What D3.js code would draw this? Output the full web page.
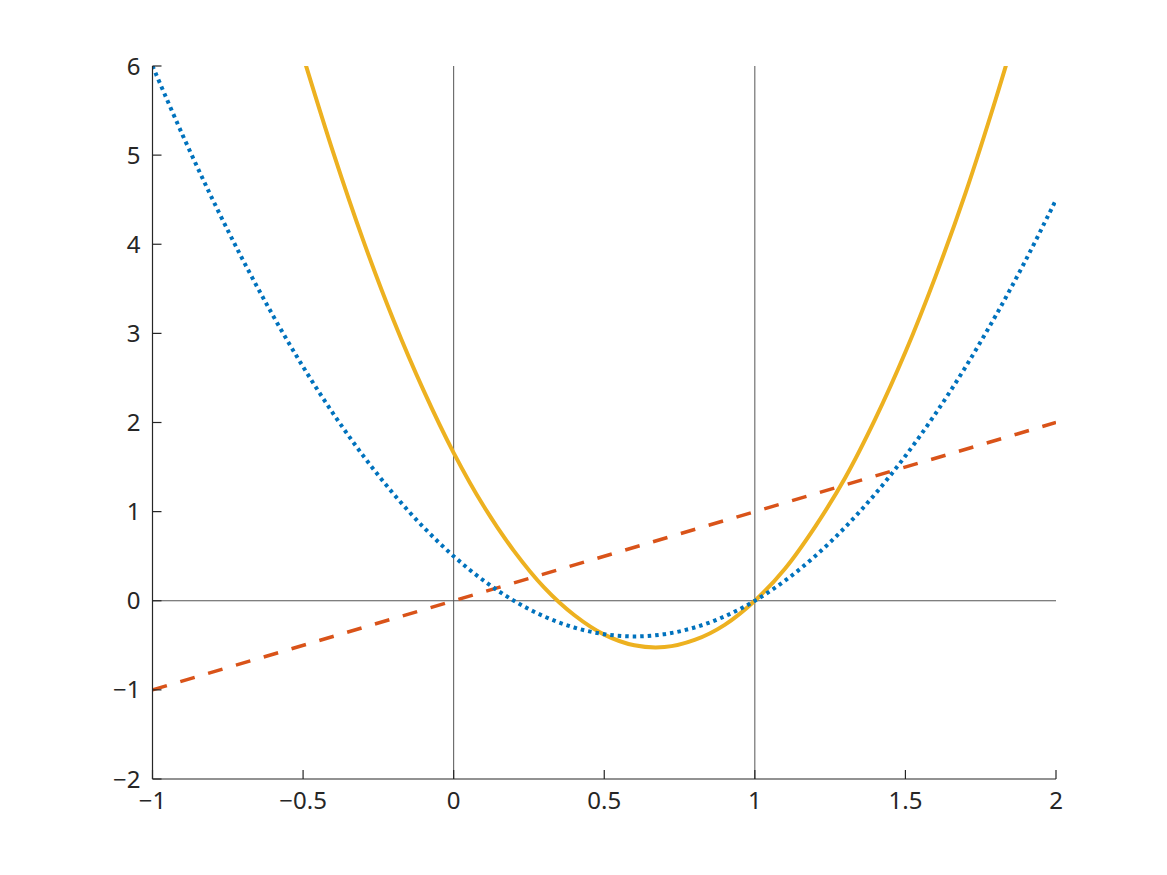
<!DOCTYPE html>
<html><head><meta charset="utf-8">
<script src="https://cdn.jsdelivr.net/npm/d3@7"></script>
<style>
html,body{margin:0;padding:0;background:#fff;}
</style></head>
<body>
<svg id="chart" width="1167" height="875"></svg>
<script>
// x samples
const xBlue = [-1,-0.9,-0.8,-0.7,-0.6,-0.5,-0.4,-0.3,-0.2,-0.1,0,0.1,0.2,0.3,0.4,0.5,0.6,0.7,0.8,0.9,1.0,1.1,1.2,1.3,1.4,1.5,1.6,1.7,1.8,1.9,2.0];
const yBlue = [6,5.225,4.5,3.825,3.2,2.625,2.1,1.625,1.2,0.825,0.5,0.225,0,-0.175,-0.3,-0.375,-0.4,-0.375,-0.3,-0.175,0,0.225,0.5,0.825,1.2,1.625,2.1,2.625,3.2,3.825,4.5];
const xLine = [-1, 2];
const yLine = [-1, 2];
const xYellow = [-0.5,-0.4,-0.3,-0.2,-0.1,0,0.1,0.2,0.3,0.4,0.5,0.6,0.7,0.8,0.9,1.0,1.1,1.2,1.3,1.4,1.5,1.6,1.7,1.8,1.9];
const yYellow = [6.11,5.03,4.04,3.15,2.36,1.66,1.06,0.56,0.15,-0.16,-0.38,-0.50,-0.52,-0.44,-0.27,0.00,0.36,0.83,1.38,2.04,2.79,3.64,4.58,5.63,6.76];
const xTicks = [-1,-0.5,0,0.5,1,1.5,2];
const xTickLabels = ["\u22121","\u22120.5","0","0.5","1","1.5","2"];
const yTicks = [-2,-1,0,1,2,3,4,5,6];
const yTickLabels = ["\u22122","\u22121","0","1","2","3","4","5","6"];
const refX = [0, 1];
const refY = [0];

const L = 152.5, R = 1056, T = 66, B = 779;
const svg = d3.select("#chart");
const x = d3.scaleLinear().domain([-1, 2]).range([L, R]);
const y = d3.scaleLinear().domain([-2, 6]).range([B, T]);

svg.append("defs").append("clipPath").attr("id","clip")
  .append("rect").attr("x",L).attr("y",T).attr("width",R-L).attr("height",B-T);

// reference lines
const g0 = svg.append("g");
refX.forEach(v => g0.append("line").attr("x1",x(v)).attr("x2",x(v)).attr("y1",T).attr("y2",B)
  .attr("stroke","#555").attr("stroke-width",1));
refY.forEach(v => g0.append("line").attr("x1",L).attr("x2",R).attr("y1",y(v)).attr("y2",y(v))
  .attr("stroke","#555").attr("stroke-width",1));

const plot = svg.append("g").attr("clip-path","url(#clip)");
const line = d3.line().x(d=>x(d[0])).y(d=>y(d[1])).curve(d3.curveCatmullRom.alpha(0.5));

plot.append("path").datum(xYellow.map((v,i)=>[v,yYellow[i]]))
  .attr("d", line).attr("fill","none").attr("stroke","#EDB120").attr("stroke-width",4);
plot.append("path").datum(xLine.map((v,i)=>[v,yLine[i]]))
  .attr("d", d3.line().x(d=>x(d[0])).y(d=>y(d[1])))
  .attr("fill","none").attr("stroke","#D95319").attr("stroke-width",3.5).attr("stroke-dasharray","15 14");
plot.append("path").datum(xBlue.map((v,i)=>[v,yBlue[i]]))
  .attr("d", line).attr("fill","none").attr("stroke","#0072BD").attr("stroke-width",4).attr("stroke-dasharray","3.5 4");

// axes drawn manually from scales for full font control
const ax = svg.append("g").attr("fill","#262626");
ax.append("line").attr("x1",L).attr("x2",R).attr("y1",B).attr("y2",B).attr("stroke","#262626").attr("stroke-width",1.2);
ax.append("line").attr("x1",L).attr("x2",L).attr("y1",T).attr("y2",B).attr("stroke","#262626").attr("stroke-width",1.2);
ax.selectAll(".xt").data(xTicks).join("line").attr("class","xt")
  .attr("x1",d=>x(d)).attr("x2",d=>x(d)).attr("y1",B).attr("y2",B-9).attr("stroke","#262626").attr("stroke-width",1.2);
ax.selectAll(".yt").data(yTicks).join("line").attr("class","yt")
  .attr("y1",d=>y(d)).attr("y2",d=>y(d)).attr("x1",L).attr("x2",L+9).attr("stroke","#262626").attr("stroke-width",1.2);
ax.selectAll(".xl").data(xTicks).join("text").attr("class","xl")
  .attr("x",d=>x(d)).attr("y",B+30).attr("text-anchor","middle")
  .attr("font-family","Noto Sans, sans-serif").attr("font-size","24px")
  .text((d,i)=>xTickLabels[i]);
ax.selectAll(".yl").data(yTicks).join("text").attr("class","yl")
  .attr("x",L-12).attr("y",d=>y(d)+8.5).attr("text-anchor","end")
  .attr("font-family","Noto Sans, sans-serif").attr("font-size","24px")
  .text((d,i)=>yTickLabels[i]);
</script>
</body></html>
